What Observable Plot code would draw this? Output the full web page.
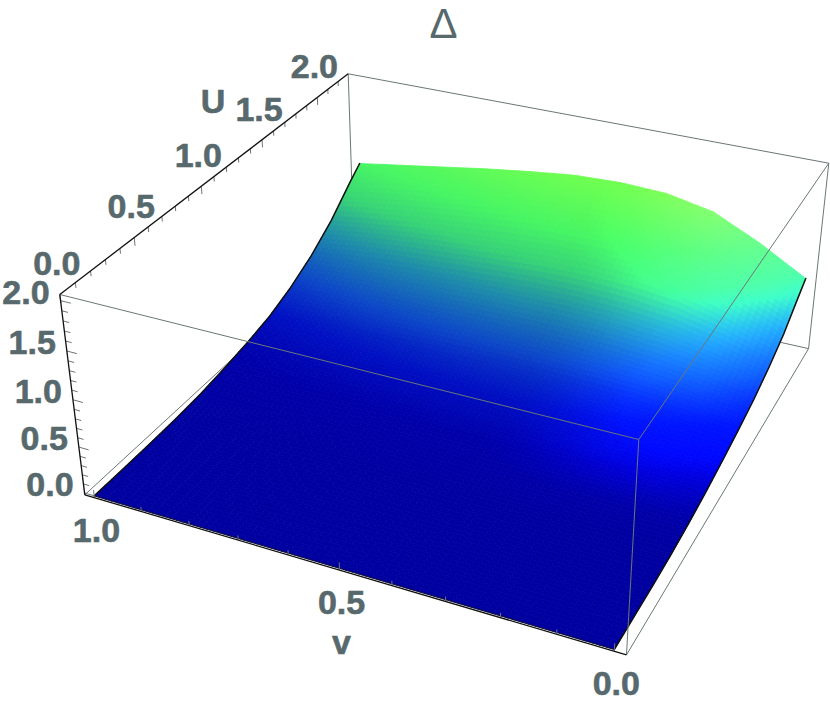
<!DOCTYPE html>
<html>
<head>
<meta charset="utf-8">
<script src="https://cdn.jsdelivr.net/npm/d3@7"></script>
<script src="https://cdn.jsdelivr.net/npm/@observablehq/plot@0.6"></script>
<style>html,body{margin:0;padding:0;background:#fff}svg{display:block}</style>
</head>
<body>
<div id="chart"></div>
<script>
// Surface values: one row per U, one column per v
const uValues = [0, 0.2, 0.4, 0.6, 0.8, 1.0, 1.2, 1.4, 1.6, 1.8, 2.0, 2.2, 2.3];
const vValues = [1, 0.9, 0.8, 0.7, 0.6, 0.5, 0.4, 0.3, 0.2, 0.1, 0];
const deltaRows = [
  [0, 0, 0, 0, 0, 0, 0, 0, 0, 0, 0],
  [.002, .002, .002, .002, .003, .003, .003, .003, .003, .002, .002],
  [.006, .006, .007, .007, .007, .008, .008, .008, .007, .007, .006],
  [.015, .016, .017, .018, .019, .02, .02, .02, .019, .017, .015],
  [.035, .04, .045, .047, .05, .05, .05, .05, .045, .042, .04],
  [.075, .09, .10, .105, .11, .115, .115, .11, .105, .095, .08],
  [.125, .145, .16, .17, .18, .185, .19, .18, .17, .15, .13],
  [.19, .215, .24, .255, .27, .28, .285, .275, .26, .225, .19],
  [.30, .34, .38, .405, .43, .445, .45, .44, .41, .35, .26],
  [.45, .51, .555, .59, .625, .655, .665, .65, .60, .50, .36],
  [.65, .72, .785, .835, .885, .925, .94, .92, .855, .70, .49],
  [.91, .99, 1.06, 1.13, 1.195, 1.25, 1.27, 1.25, 1.16, .945, .68],
  [1.03, 1.11, 1.19, 1.27, 1.34, 1.40, 1.42, 1.40, 1.30, 1.06, .77]
];
const uTicks = [0, 0.5, 1.0, 1.5, 2.0];
const vTicks = [1.0, 0.5, 0.0];
const deltaTicks = [0, 0.5, 1.0, 1.5, 2.0];
const labels = {title: "Δ", u: "U", v: "v"};

// Perspective camera of the box (unit cube s, t, z to homogeneous view coordinates)
const camX = [376.04, 502.61, -30.58, 89.88];
const camY = [-202.22, 92.46, -233.02, 527.02];
const camW = [0.25206, -0.11967, -0.0662, 1.0662];
const dot = (c, s, t, z) => c[0]*s + c[1]*t + c[2]*z + c[3];
const viewBox = (s, t, z) => {
  const w = dot(camW, s, t, z);
  return [dot(camX, s, t, z)/w, dot(camY, s, t, z)/w];
};
const uMax = 2.3;
const toS = U => U/uMax;
const toT = v => 0.02 + 0.96*(1 - v);
const toZ = D => (D + 0.02)/2.08;
const view = (U, v, D) => viewBox(toS(U), toT(v), toZ(D));

// colours: height ramp, brightened by a soft light from the v = 0 side
const base = d3.scaleLinear()
  .domain([0, 0.1, 0.2, 0.35, 0.58, 0.8, 1.03, 1.4])
  .range(["rgb(0,0,160)", "rgb(0,0,170)", "rgb(0,15,195)", "rgb(12,70,200)", "rgb(30,140,170)", "rgb(55,210,120)", "rgb(70,245,100)", "rgb(110,255,80)"])
  .interpolate(d3.interpolateRgb)
  .clamp(true);
const smooth = (a, b, x) => { const k = Math.min(1, Math.max(0, (x - a)/(b - a))); return k*k*(3 - 2*k); };
const shade = (D, v) => {
  const L = 1 + 0.42*smooth(0.45, 0.08, v)*smooth(0.02, 0.14, D);
  const c = d3.rgb(base(D));
  return `rgb(${Math.min(255, c.r*L)},${Math.min(255, c.g*L)},${Math.min(255, c.b*L)})`;
};

// Build surface polygons, from the back row to the front one
const nU = uValues.length, nV = vValues.length;
const polys = [];
const SU = 8, SV = 8;
const bil = (m, i, j, a, b) =>
  (1-a)*(1-b)*m[i][j] + a*(1-b)*m[i+1][j] + (1-a)*b*m[i][j+1] + a*b*m[i+1][j+1];
let id = 0;
for (let i = nU - 2; i >= 0; i--) {
  for (let ka = SU - 1; ka >= 0; ka--) {
    for (let j = 0; j < nV - 1; j++) {
      for (let kb = 0; kb < SV; kb++) {
        const a0 = ka/SU, a1 = (ka+1)/SU, b0 = kb/SV, b1 = (kb+1)/SV;
        const pt = (a, b) => {
          const U = uValues[i] + a*(uValues[i+1]-uValues[i]);
          const v = vValues[j] + b*(vValues[j+1]-vValues[j]);
          return view(U, v, bil(deltaRows, i, j, a, b));
        };
        const mv = vValues[j] + (b0+b1)/2*(vValues[j+1]-vValues[j]);
        const mid = shade(bil(deltaRows, i, j, (a0+a1)/2, (b0+b1)/2), mv);
        [[a0,b0],[a1,b0],[a1,b1],[a0,b1],[a0,b0]].forEach(([a,b]) => {
          const [x, y] = pt(a, b);
          polys.push({id, x, y, c: mid});
        });
        id++;
      }
    }
  }
}

// Box
const edge = (a, b) => {
  const [x1, y1] = viewBox(...a), [x2, y2] = viewBox(...b);
  return {x1, y1, x2, y2};
};
const backEdges = [
  edge([1,0,1],[1,0,0]), edge([1,1,1],[1,1,0]), edge([1,0,0],[1,1,0]),
  edge([0,0,0],[1,0,0]), edge([0,1,0],[1,1,0]), edge([1,0,1],[1,1,1])
];
const frontEdges = [edge([0,0,1],[0,1,1]), edge([0,1,1],[0,1,0]), edge([0,1,1],[1,1,1])];
const axisEdges = [edge([0,0,1],[1,0,1]), edge([0,0,1],[0,0,0]), edge([0,0,0],[0,1,0])];

// Ticks
const tickMarks = [];
d3.range(0, 23).forEach(k => {
  const major = k % 5 === 0;
  tickMarks.push(edge([toS(k/10), 0, 1], [toS(k/10), 0, 1 - (major ? 0.04 : 0.025)]));
});
d3.range(0, 21).forEach(k => {
  const major = k % 5 === 0;
  tickMarks.push(edge([0, 0, toZ(k/10)], [0, major ? 0.02 : 0.012, toZ(k/10)]));
});
d3.range(0, 11).forEach(k => {
  const major = k % 5 === 0;
  tickMarks.push(edge([0, toT(k/10), 0], [0, toT(k/10), major ? 0.04 : 0.025]));
});

const rowLine = j => uValues.map((U, i) => { const [x, y] = view(U, vValues[j], deltaRows[i][j]); return {x, y}; });
const frontLine = vValues.map((v, j) => { const [x, y] = view(0, v, deltaRows[0][j]); return {x, y}; });

const ink = "#57696c", box = "#6b7777", dark = "#111";
const font = {fontFamily: "Liberation Sans, Arial, sans-serif", fontWeight: "bold", fontSize: 34, fill: ink, stroke: ink, strokeWidth: 0.6, textAnchor: "middle", lineAnchor: "middle"};
const at = (fn) => ({x: d => fn(d)[0], y: d => fn(d)[1]});
const uAt = d => viewBox(toS(d), 0, 1);
const vAt = d => viewBox(0, toT(d), 0);
const dAt = d => viewBox(0, 0, toZ(d));
const fmt = d => d.toFixed(1);

const plot = Plot.plot({
  width: 830, height: 708,
  marginTop: 0, marginRight: 0, marginBottom: 0, marginLeft: 0,
  x: {domain: [0, 830], range: [0, 830], axis: null},
  y: {domain: [0, 708], range: [0, 708], axis: null},
  color: {type: "identity"},
  style: {background: "white"},
  marks: [
    Plot.link(backEdges, {x1: "x1", y1: "y1", x2: "x2", y2: "y2", stroke: box, strokeWidth: 1}),
    Plot.line(polys, {x: "x", y: "y", z: "id", fill: "c", stroke: "c", strokeWidth: 0.8}),
    Plot.line(rowLine(0), {x: "x", y: "y", stroke: dark, strokeWidth: 1.5}),
    Plot.line(rowLine(nV - 1), {x: "x", y: "y", stroke: dark, strokeWidth: 1.5}),
    Plot.line(frontLine, {x: "x", y: "y", stroke: dark, strokeWidth: 0.8}),
    Plot.link(frontEdges, {x1: "x1", y1: "y1", x2: "x2", y2: "y2", stroke: box, strokeWidth: 1}),
    Plot.link(tickMarks, {x1: "x1", y1: "y1", x2: "x2", y2: "y2", stroke: box, strokeWidth: 1}),
    Plot.link(axisEdges, {x1: "x1", y1: "y1", x2: "x2", y2: "y2", stroke: dark, strokeWidth: 1.3}),
    Plot.text(uTicks, {...at(uAt), text: fmt, dx: -3, dy: -30, ...font}),
    Plot.text(vTicks, {...at(vAt), text: fmt, dx: 2, dy: 33, ...font}),
    Plot.text(deltaTicks, {...at(dAt), text: fmt, dx: -11, dy: -8, ...font, textAnchor: "end"}),
    Plot.text([labels.u], {x: () => uAt(1.5)[0], y: () => uAt(1.5)[1], text: d => d, dx: -49, dy: -38, ...font}),
    Plot.text([labels.v], {x: () => vAt(0.5)[0], y: () => vAt(0.5)[1], text: d => d, dx: 2, dy: 73, ...font}),
    Plot.text([labels.title], {frameAnchor: "top", text: d => d, dx: 28, dy: 24, ...font, fontWeight: "normal", fontSize: 42, strokeWidth: 0})
  ]
});
document.getElementById("chart").appendChild(plot);
</script>
</body>
</html>
